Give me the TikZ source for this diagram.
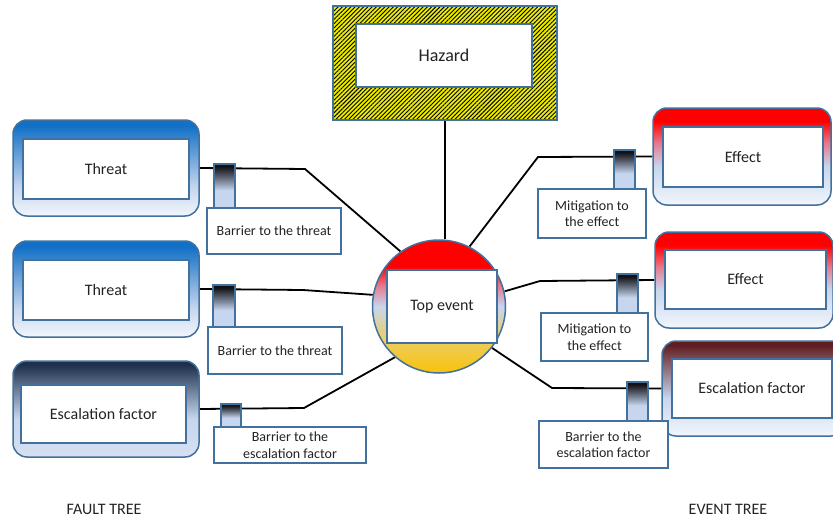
\documentclass[tikz,border=0pt]{standalone}
\usepackage{fontspec}
\setmainfont{Carlito}
\usetikzlibrary{patterns.meta,backgrounds}

% palette
\definecolor{edge}{RGB}{65,113,156}
\definecolor{paleblue}{RGB}{198,214,238}
\definecolor{whiteblue}{RGB}{242,246,252}
\definecolor{esclow}{RGB}{214,224,241}
\definecolor{threatblue}{RGB}{18,112,198}
\definecolor{navy}{RGB}{30,48,78}
\definecolor{maroon}{RGB}{96,28,32}
\definecolor{hazyellow}{RGB}{236,236,0}
\definecolor{gold}{RGB}{248,194,10}
\definecolor{goldlight}{RGB}{236,206,100}
\definecolor{tabdark}{RGB}{18,18,22}
\definecolor{tabmid}{RGB}{80,86,100}
\definecolor{txt}{RGB}{35,35,35}
\definecolor{pure red}{RGB}{255,0,0}
\definecolor{pinkish}{RGB}{230,120,140}

% vertical gradients (path spans 25bp..75bp, bottom to top)
\pgfdeclareverticalshading{threatshade}{100bp}{color(0bp)=(whiteblue); color(25bp)=(whiteblue); color(40bp)=(paleblue); color(72bp)=(threatblue); color(100bp)=(threatblue)}
\pgfdeclareverticalshading{effectshade}{100bp}{color(0bp)=(whiteblue); color(25bp)=(whiteblue); color(45bp)=(paleblue); color(57bp)=(pinkish); color(68bp)=(pure red); color(100bp)=(pure red)}
\pgfdeclareverticalshading{escleftshade}{100bp}{color(0bp)=(esclow); color(25bp)=(esclow); color(45bp)=(paleblue); color(73bp)=(navy); color(100bp)=(navy)}
\pgfdeclareverticalshading{escrightshade}{100bp}{color(0bp)=(whiteblue); color(25bp)=(whiteblue); color(45bp)=(paleblue); color(73bp)=(maroon); color(100bp)=(maroon)}
\pgfdeclareverticalshading{topshade}{100bp}{color(0bp)=(gold); color(25bp)=(gold); color(38bp)=(goldlight); color(50bp)=(paleblue); color(58bp)=(pinkish); color(65bp)=(pure red); color(100bp)=(pure red)}
\pgfdeclareverticalshading{barriershade}{100bp}{color(0bp)=(paleblue); color(25bp)=(paleblue); color(45bp)=(paleblue); color(62bp)=(tabmid); color(72bp)=(tabdark); color(100bp)=(tabdark)}

\tikzset{
  outerbox/.style={rectangle, rounded corners=14pt, draw=edge, line width=1.5pt, inner sep=0pt},
  innerbox/.style={rectangle, draw=edge, line width=2pt, fill=white, inner sep=0pt,
    font=\fontsize{16}{19}\selectfont, text=txt},
  tabbox/.style={rectangle, draw=edge, line width=1.5pt, shading=barriershade, inner sep=0pt},
  labelbox/.style={rectangle, draw=edge, line width=1.5pt, fill=white, inner sep=0pt,
    font=\fontsize{14}{16.5}\selectfont, align=center, text=txt},
  link/.style={line width=1.8pt, black},
  caption/.style={font=\fontsize{16}{19}\selectfont, text=txt}
}

\begin{document}
\begin{tikzpicture}[x=1pt, y=-1pt]
\useasboundingbox (0,0) rectangle (833,519);
\clip (0,0) rectangle (833,519);

% hazard
\node[rectangle, draw=edge, line width=1.5pt, inner sep=0pt, minimum width=224pt, minimum height=114pt,
  preaction={fill=hazyellow},
  pattern={Lines[angle=45, distance=3pt, line width=0.9pt]}, pattern color=black] (haz) at (445,63) {};
\node[innerbox, minimum width=176pt, minimum height=63pt, font=\fontsize{18}{21}\selectfont] (hazin) at (444,55.5) {Hazard};

% top event
\node[circle, draw=edge, line width=1.5pt, minimum size=133pt, inner sep=0pt, shading=topshade] (ev) at (439,306.5) {};
\node[innerbox, minimum width=110pt, minimum height=73pt] (evin) at (442,306.5) {Top event};

% fault tree side
\node[outerbox, shading=threatshade, minimum width=186pt, minimum height=96pt] (t1o) at (106,168) {};
\node[innerbox, minimum width=166pt, minimum height=60pt] (t1) at (106,169) {Threat};
\node[outerbox, shading=threatshade, minimum width=186pt, minimum height=96pt] (t2o) at (106,289) {};
\node[innerbox, minimum width=166pt, minimum height=60pt] (t2) at (106,290) {Threat};
\node[outerbox, shading=escleftshade, minimum width=186pt, minimum height=96pt] (e3o) at (106,409) {};
\node[innerbox, minimum width=165pt, minimum height=58pt] (e3) at (103.5,414) {Escalation factor};

% event tree side
\node[outerbox, shading=effectshade, minimum width=178pt, minimum height=97pt] (f1o) at (742,156.5) {};
\node[innerbox, minimum width=160pt, minimum height=60pt] (f1) at (743,157) {Effect};
\node[outerbox, shading=effectshade, minimum width=178pt, minimum height=96pt] (f2o) at (744,280) {};
\node[innerbox, minimum width=161pt, minimum height=59pt] (f2) at (745.5,279.5) {Effect};
\node[outerbox, shading=escrightshade, minimum width=183pt, minimum height=95pt] (e4o) at (753.5,388.5) {};
\node[innerbox, minimum width=160pt, minimum height=59pt] (e4) at (752,388.5) {Escalation factor};

% bend points of the connectors
\coordinate (k1) at (305,169);
\coordinate (k2) at (303,290);
\coordinate (k3) at (304,408);
\coordinate (k4) at (538,157);
\coordinate (k5) at (540,281);
\coordinate (k6) at (552,388);

\begin{scope}[on background layer]
  \draw[link] (haz.south) -- (ev.north -| haz.south);
  \draw[link] (t1o.east) -- (k1) -- (ev.125);
  \draw[link] (t2o.east) -- (k2) -- (ev.170);
  \draw[link] (e3o.east) -- (k3) -- (ev.229);
  \draw[link] (f1o.west) -- (k4) -- (ev.63);
  \draw[link] (f2o.west) -- (k5) -- (ev.13);
  \draw[link] (e4o.west) -- (k6) -- (ev.-38);
\end{scope}

% barriers on the connectors
\node[tabbox, minimum width=21pt, minimum height=44pt] (b1) at (224.5,186) {};
\node[labelbox, minimum width=134pt, minimum height=46pt] (l1) at (274,231) {Barrier to the threat};
\node[tabbox, minimum width=22pt, minimum height=42pt] (b2) at (224,306) {};
\node[labelbox, minimum width=134pt, minimum height=47pt] (l2) at (275,350.5) {Barrier to the threat};
\node[tabbox, minimum width=20pt, minimum height=23pt] (b3) at (231,415.5) {};
\node[labelbox, minimum width=152pt, minimum height=36pt] (l3) at (290,445) {Barrier to the\\escalation factor};

\node[tabbox, minimum width=21pt, minimum height=39pt] (b4) at (624.5,169.5) {};
\node[labelbox, minimum width=108pt, minimum height=49pt] (l4) at (592,213.5) {Mitigation to\\the effect};
\node[tabbox, minimum width=21pt, minimum height=39pt] (b5) at (627.5,293.5) {};
\node[labelbox, minimum width=107pt, minimum height=48pt] (l5) at (594.5,337) {Mitigation to\\the effect};
\node[tabbox, minimum width=21pt, minimum height=39pt] (b6) at (637.5,401.5) {};
\node[labelbox, minimum width=129pt, minimum height=47pt] (l6) at (603.5,444.5) {Barrier to the\\escalation factor};

% captions
\node[caption] (ft) at (104,509) {FAULT TREE};
\node[caption] (et) at (728,509) {EVENT TREE};
\end{tikzpicture}
\end{document}
